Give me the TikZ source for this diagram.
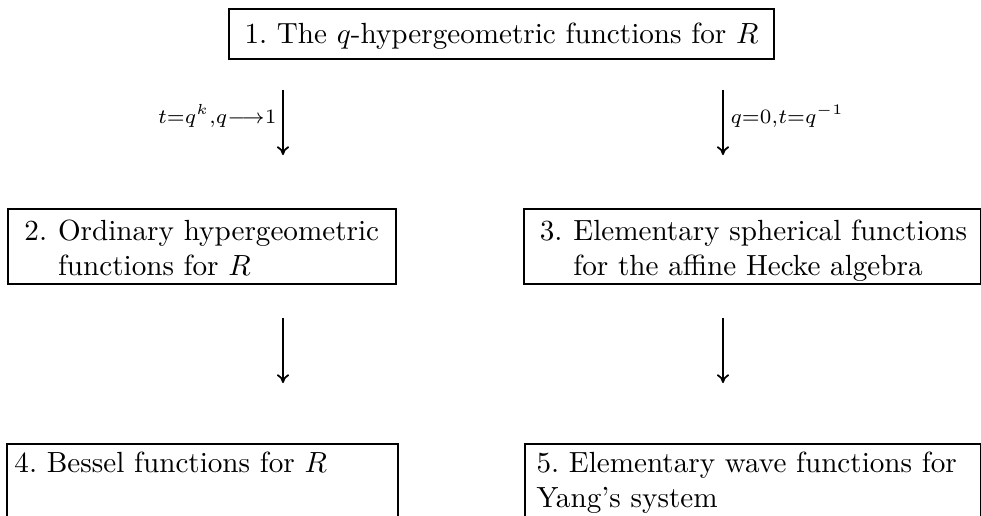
\documentclass[tikz,border=0pt]{standalone}
\usetikzlibrary{arrows.meta}
\tikzset{
  fbox/.style    ={draw, line width=0.6pt, anchor=north west, inner ysep=0pt,
                   align=left},
  lim/.style     ={-{To[length=3pt,width=4.2pt]}, line width=0.6pt},
  limlabel/.style={inner sep=1pt},
}
\newcommand{\itemno}[1]{\makebox[11.5pt][l]{#1}}

\begin{document}
\begin{tikzpicture}[x=0.343pt, y=-0.343pt]
  \path[use as bounding box, clip] (0,0) rectangle (981,515);

  % ---- top -----------------------------------------------------------------
  \node[fbox, inner xsep=0pt, minimum width=187pt, text height=12pt,
        text depth=5.2pt] (qhyp) at (228,8)
    {1.~The $q$-hypergeometric functions for $R$};

  % ---- limits ----------------------------------------------------------------
  \coordinate (lefttop)  at (283,90);
  \coordinate (leftbot)  at (283,155);
  \coordinate (righttop) at (723,90);
  \coordinate (rightbot) at (723,155);
  \draw[lim] (lefttop) -- (leftbot);
  \draw[lim] (righttop) -- (rightbot);
  \node[limlabel, anchor=east] (leftlab) at (280,116)
    {$\scriptstyle t=q^k,q\longrightarrow1$};
  \node[limlabel, anchor=west] (rightlab) at (727,116)
    {$\scriptstyle q=0,t=q^{-1}$};

  % ---- middle row ------------------------------------------------------------
  \node[fbox, inner xsep=5.7pt, text width=121.7pt, text height=11pt,
        text depth=14.7pt] (ordhyp) at (7,208)
    {\mbox{\itemno{2.}Ordinary hypergeometric}\\
     \mbox{\hspace*{11.5pt}functions for $R$}};
  \node[fbox, inner xsep=5.5pt, text width=145.8pt, minimum width=156.8pt,
        text height=11pt, text depth=14.7pt] (sphfun) at (523,208)
    {\mbox{\itemno{3.}Elementary spherical functions}\\
     \mbox{\hspace*{11.5pt}for the affine Hecke algebra}};

  \coordinate (ordbot)  at (283,318);
  \coordinate (besstop) at (283,383);
  \coordinate (sphbot)  at (723,318);
  \coordinate (wavetop) at (723,383);
  \draw[lim] (ordbot) -- (besstop);
  \draw[lim] (sphbot) -- (wavetop);

  % ---- bottom row ------------------------------------------------------------
  \node[fbox, inner xsep=2.6pt, text width=128.9pt, text height=9.8pt,
        text depth=17pt] (bessel) at (6,443)
    {4.~Bessel functions for $R$};
  \node[fbox, inner xsep=4pt, text width=148.4pt, minimum width=156.4pt,
        text height=9.8pt, text depth=17pt] (wavefun) at (524,443)
    {\mbox{5.~Elementary wave functions for}\\
     \mbox{Yang's system}};
\end{tikzpicture}
\end{document}
